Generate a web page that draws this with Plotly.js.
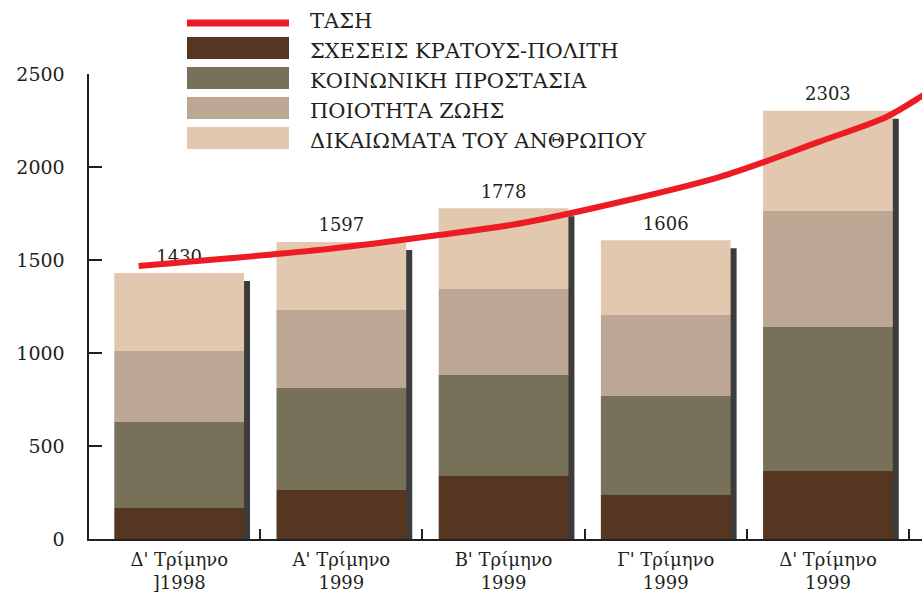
<!DOCTYPE html>
<html>
<head>
<meta charset="utf-8">
<script src="https://cdn.plot.ly/plotly-3.0.1.min.js"></script>
<style>
  html, body { margin: 0; padding: 0; background: #fff; }
  #chart { width: 922px; height: 593px; }
</style>
</head>
<body>
<div id="chart"></div>
<script>
// quarters
var quarters = ["Δ' Τρίμηνο<br>]1998", "Α' Τρίμηνο<br>1999", "Β' Τρίμηνο<br>1999", "Γ' Τρίμηνο<br>1999", "Δ' Τρίμηνο<br>1999"];
var xPos = [0, 1, 2, 3, 4];

// stacked segments (bottom to top)
var relations = [167, 263, 339, 237, 366];   // ΣΧΕΣΕΙΣ ΚΡΑΤΟΥΣ-ΠΟΛΙΤΗ
var social = [462, 549, 543, 532, 774];      // ΚΟΙΝΩΝΙΚΗ ΠΡΟΣΤΑΣΙΑ
var quality = [382, 419, 462, 435, 623];     // ΠΟΙΟΤΗΤΑ ΖΩΗΣ
var rights = [419, 366, 434, 402, 540];      // ΔΙΚΑΙΩΜΑΤΑ ΤΟΥ ΑΝΘΡΩΠΟΥ
var totals = [1430, 1597, 1778, 1606, 2303];

// trend curve
var trendX = [-0.25, 0.92, 1.6, 2.15, 3.33, 3.94, 4.36, 4.57, 4.7];
var trendY = [1468, 1559, 1634, 1704, 1946, 2134, 2269, 2376, 2450];

var seriesNames = ["ΣΧΕΣΕΙΣ ΚΡΑΤΟΥΣ-ΠΟΛΙΤΗ", "ΚΟΙΝΩΝΙΚΗ ΠΡΟΣΤΑΣΙΑ", "ΠΟΙΟΤΗΤΑ ΖΩΗΣ", "ΔΙΚΑΙΩΜΑΤΑ ΤΟΥ ΑΝΘΡΩΠΟΥ"];
var seriesColors = ["#553620", "#777159", "#bba793", "#e1c8ae"];
var trendName = "ΤΑΣΗ";
var trendColor = "#ed1c24";

var font = "DejaVu Serif, Liberation Serif, serif";
var ink = "#231f20";

var segs = [relations, social, quality, rights];
var barW = 0.8;
var data = [];

// shadow behind each bar
data.push({
  type: "bar", x: xPos, y: totals.map(function (t) { return t - 43; }), base: 0,
  width: barW, offset: -barW / 2 + 0.037,
  marker: {color: "#3c3c3c", line: {width: 0}},
  hoverinfo: "skip", showlegend: false
});

var base = [0, 0, 0, 0, 0];
for (var s = 0; s < segs.length; s++) {
  data.push({
    type: "bar", name: seriesNames[s], x: xPos, y: segs[s], base: base.slice(),
    width: barW, marker: {color: seriesColors[s], line: {width: 0}},
    showlegend: false
  });
  base = base.map(function (b, i) { return b + segs[s][i]; });
}

// totals above the bars (invisible markers push the text up)
data.push({
  type: "scatter", mode: "markers+text", x: xPos, y: totals,
  text: totals.map(String), textposition: "top center",
  textfont: {family: font, size: 18, color: ink},
  marker: {size: 8, opacity: 0},
  cliponaxis: false, hoverinfo: "skip", showlegend: false
});

data.push({
  type: "scatter", mode: "lines", name: trendName, x: trendX, y: trendY,
  line: {color: trendColor, width: 6, shape: "spline", smoothing: 0.8},
  showlegend: false
});

// custom legend, big swatches like the original
var M = {l: 89, r: 0, t: 74, b: 54};
var W = 922, H = 593;
var pw = W - M.l - M.r, ph = H - M.t - M.b;
function px(x) { return (x - M.l) / pw; }
function py(y) { return (H - M.b - y) / ph; }

var shapes = [];
var annotations = [];
var legX0 = 187, legX1 = 289, textX = 308;
shapes.push({type: "line", xref: "paper", yref: "paper",
  x0: px(legX0), x1: px(legX1), y0: py(23), y1: py(23),
  line: {color: trendColor, width: 7}});
annotations.push({xref: "paper", yref: "paper", x: px(textX), y: py(21),
  xanchor: "left", yanchor: "middle", showarrow: false, text: trendName,
  font: {family: font, size: 21, color: ink}});
for (var k = 0; k < seriesNames.length; k++) {
  var cy = 48 + k * 30;
  shapes.push({type: "rect", xref: "paper", yref: "paper",
    x0: px(legX0), x1: px(legX1), y0: py(cy + 11), y1: py(cy - 11),
    fillcolor: seriesColors[k], line: {width: 0}});
  annotations.push({xref: "paper", yref: "paper", x: px(textX), y: py(cy + 3),
    xanchor: "left", yanchor: "middle", showarrow: false, text: seriesNames[k],
    font: {family: font, size: 21, color: ink}});
}

var layout = {
  width: W, height: H,
  margin: M,
  paper_bgcolor: "#fff", plot_bgcolor: "#fff",
  barmode: "overlay",
  showlegend: false,
  font: {family: font, size: 19, color: ink},
  xaxis: {
    range: [-0.556, 4.58], tickvals: xPos, ticktext: quarters,
    ticks: "", showgrid: false, zeroline: false,
    showline: true, linecolor: ink, linewidth: 2, layer: "below traces",
    ticklabelstandoff: 3,
    tickfont: {family: font, size: 18, color: ink},
    minor: {tickvals: [0.5, 1.5, 2.5, 3.5, 4.5], ticks: "inside", ticklen: 10, tickwidth: 2, tickcolor: ink, showgrid: false}
  },
  yaxis: {
    range: [0, 2500], tickvals: [0, 500, 1000, 1500, 2000, 2500],
    ticks: "inside", ticklen: 13, tickwidth: 2.5, tickcolor: ink,
    showline: true, linecolor: ink, linewidth: 2.5,
    showgrid: false, zeroline: false, ticklabelstandoff: 18,
    tickfont: {family: font, size: 19, color: ink}
  },
  shapes: shapes,
  annotations: annotations
};

Plotly.newPlot("chart", data, layout, {displayModeBar: false, staticPlot: true});
</script>
</body>
</html>
